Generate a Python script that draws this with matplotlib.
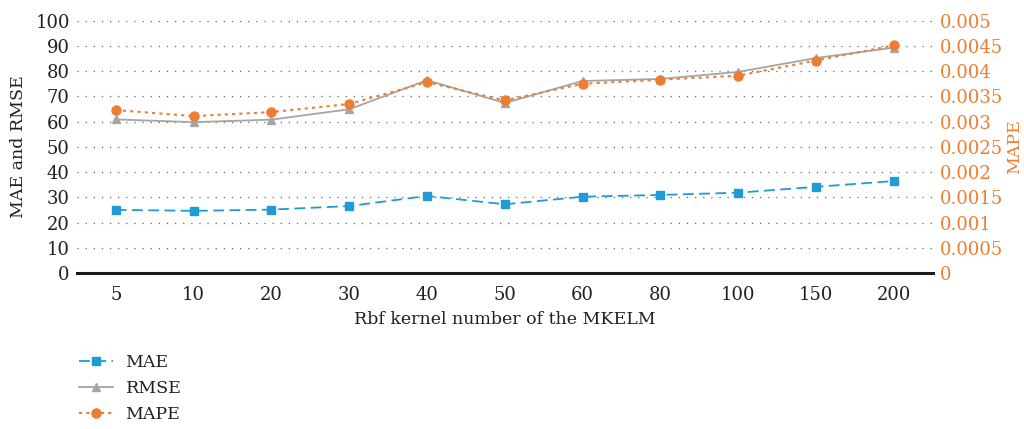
import numpy as np
import matplotlib.pyplot as plt

plt.rcParams['font.family'] = ['DejaVu Serif']

kernels = ['5', '10', '20', '30', '40', '50', '60', '80', '100', '150', '200']
mae = [25.1, 24.7, 25.2, 26.6, 30.6, 27.3, 30.3, 31.0, 31.9, 34.2, 36.5]
rmse = [60.9, 59.8, 60.8, 64.9, 76.4, 67.4, 76.1, 76.9, 79.7, 85.2, 89.3]
mape = [0.00323, 0.00311, 0.00319, 0.00335, 0.00378, 0.00342,
        0.00375, 0.00383, 0.00391, 0.00421, 0.00451]

blue = '#1f9bd7'
grey = '#a5a5a5'
orange = '#ed7d31'
text_col = '#231f20'
fs = 12.5

fig = plt.figure(figsize=(10.24, 4.29), dpi=100)
ax = fig.add_axes([0.075, 0.363, 0.836, 0.589])
ax2 = ax.twinx()

x = np.arange(len(kernels))
l1, = ax.plot(x, mae, color=blue, lw=1.3, ls=(0, (6, 3)), marker='s', ms=6, label='MAE')
l2, = ax.plot(x, rmse, color=grey, lw=1.3, marker='^', ms=6, label='RMSE')
l3, = ax2.plot(x, mape, color=orange, lw=1.5, ls=(0, (1.5, 2)), marker='o', ms=6.5, label='MAPE')

ax.set_xlim(-0.5, len(kernels) - 0.5)
ax.set_ylim(0, 100)
ax2.set_ylim(0, 0.005)
ax.set_yticks(np.arange(0, 101, 10))
ax2.set_yticks(np.arange(0, 0.00501, 0.0005))
ax2.set_yticklabels(['0', '0.0005', '0.001', '0.0015', '0.002', '0.0025',
                     '0.003', '0.0035', '0.004', '0.0045', '0.005'])
ax.set_xticks(x)
ax.set_xticklabels(kernels)

ax.grid(axis='y', color='#666666', ls=(0, (1, 5.5)), lw=0.9)
ax.set_axisbelow(True)

for a in (ax, ax2):
    for s in ('top', 'left', 'right', 'bottom'):
        a.spines[s].set_visible(False)
ax.spines['bottom'].set_visible(True)
ax.spines['bottom'].set_linewidth(2.2)
ax.spines['bottom'].set_color('#1a1a1a')

ax.tick_params(axis='both', length=0, labelsize=13, colors=text_col, pad=5)
ax.tick_params(axis='x', pad=9)
ax2.tick_params(axis='y', length=0, labelsize=13, colors=orange, pad=5)

ax.set_xlabel('Rbf kernel number of the MKELM', fontsize=fs, color=text_col, labelpad=5)
ax.set_ylabel('MAE and RMSE', fontsize=fs, color=text_col, labelpad=6)
ax2.set_ylabel('MAPE', fontsize=fs, color=orange, labelpad=2)

fig.legend(handles=[l1, l2, l3], loc='upper left', bbox_to_anchor=(0.07, 0.19),
           frameon=False, fontsize=fs, handlelength=2.0, handletextpad=0.7,
           labelspacing=0.5, labelcolor=text_col, borderaxespad=0)

fig.savefig('out.png', dpi=100)
